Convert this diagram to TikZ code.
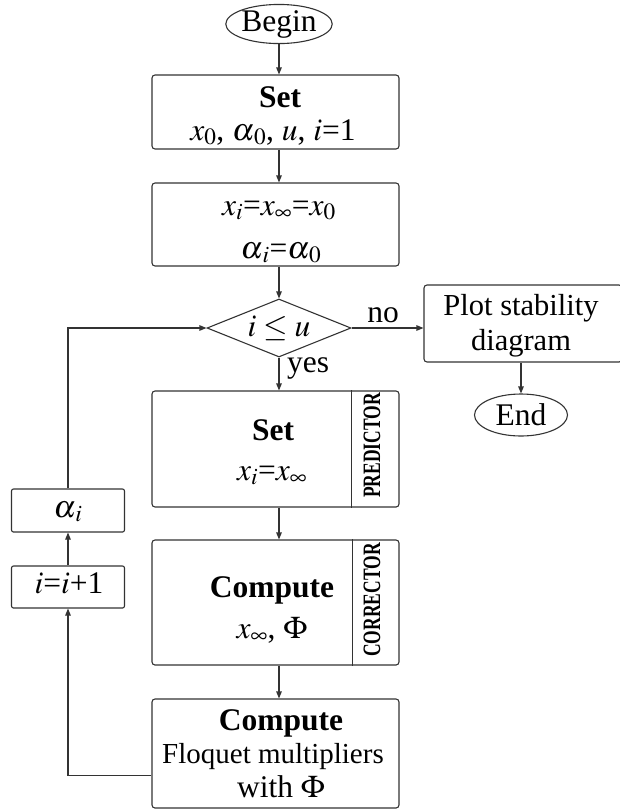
\documentclass[tikz,border=0pt]{standalone}
\usepackage{mathptmx}
\usepackage[no-math]{fontspec}
\setmainfont{Liberation Serif}
\usepackage{graphicx}
\usetikzlibrary{shapes.geometric,arrows.meta}

\tikzset{
  line/.style={draw=black!80, line width=1.1pt},
  arr/.style={line, -{Triangle[length=7pt,width=5.5pt]}},
  box/.style={line, rounded corners=3pt, minimum width=247pt, inner sep=0pt},
  smallbox/.style={line, rounded corners=2pt, minimum width=113pt, inner sep=0pt},
  term/.style={line, ellipse, inner sep=0pt},
  txt/.style={anchor=base, inner sep=0pt},
  side/.style={rotate=90, inner sep=0pt, font=\fontsize{25}{25}\selectfont\bfseries}
}
\newcommand{\alsub}[1]{\alpha_{\kern2pt #1}}

\begin{document}
\begin{tikzpicture}[x=1pt, y=-1pt, font=\fontsize{31.5}{34}\selectfont]
\useasboundingbox (0,0) rectangle (620,812);

% Start and initialisation
\node[term, minimum width=72pt, minimum height=36pt] (begin) at (279,24) {Begin};
\node[box, minimum height=74pt] (set) at (275.5,112) {};
\node[txt] (setA) at (280,107) {\textbf{Set}};
\node[txt] (setB) at (273,140) {$x_0$, $\alsub{0}$, $u$, $i$=1};
\node[box, minimum height=83pt] (init) at (275.5,224.5) {};
\node[txt] (initA) at (279,215) {$x_i$=$x_\infty$=$x_0$};
\node[txt] (initB) at (281,258) {$\alsub{i}$=$\alsub{0}$};

% Decision
\node[line, diamond, aspect=2.5, minimum width=144pt, minimum height=58pt, inner sep=0pt] (test) at (279,328) {$i\leq u$};
\node[txt, anchor=base west] (yes) at (287,372) {yes};
\node[txt] (no) at (383,322) {no};

% Exit branch
\begin{scope}
\clip (0,0) rectangle (620,812);
\node[box, minimum width=198pt, minimum height=77pt] (plot) at (523,323.5) {};
\end{scope}
\node[txt, font=\fontsize{30.5}{34}\selectfont] (plotA) at (521,315) {Plot stability};
\node[txt, font=\fontsize{30.5}{34}\selectfont] (plotB) at (521,350) {diagram};
\node[term, minimum width=93pt, minimum height=42pt] (stop) at (521,415) {End};

% Predictor
\node[box, minimum height=116pt] (pred) at (275.5,449) {};
\node[txt] (predA) at (273,440) {\textbf{Set}};
\node[txt] (predB) at (272,480) {$x_i$=$x_\infty$};
\draw[line] ([xshift=-48pt]pred.north east) -- ([xshift=-48pt]pred.south east);
\node[side] (predS) at (372,445.5) {\scalebox{0.7}[1]{PREDICTOR}};

% Corrector
\node[box, minimum height=125pt] (corr) at (275.5,602.5) {};
\node[txt] (corrA) at (272,597) {\textbf{Compute}};
\node[txt] (corrB) at (272,638) {$x_\infty$, $\Phi$};
\draw[line] ([xshift=-47pt]corr.north east) -- ([xshift=-47pt]corr.south east);
\node[side] (corrS) at (372,600) {\scalebox{0.7}[1]{CORRECTOR}};

% Floquet multipliers
\node[box, minimum height=109pt] (flq) at (275.5,753.5) {};
\node[txt] (flqA) at (281,730) {\textbf{Compute}};
\node[txt, font=\fontsize{29}{34}\selectfont] (flqB) at (273,763) {Floquet multipliers};
\node[txt] (flqC) at (281,797) {with $\Phi$};

% Loop back
\node[smallbox, minimum height=42pt] (inc) at (68,587) {};
\node[txt] (incT) at (69,593) {$i$=$i$+1};
\node[smallbox, minimum height=43pt] (alpha) at (68,510.5) {};
\node[txt] (alphaT) at (68,517) {$\alsub{i}$};

% Connectors
\draw[arr] (begin) -- (set.north -| begin);
\draw[arr] (set.south -| begin) -- (init.north -| begin);
\draw[arr] (init.south -| test) -- (test.north);
\draw[arr] (test.south) -- (pred.north -| test);
\draw[arr] (test.east) -- (test.east -| plot.west);
\draw[arr] (plot.south -| stop) -- (stop);
\draw[arr] (pred.south -| test) -- (corr.north -| test);
\draw[arr] (corr.south -| test) -- (flq.north -| test);
\draw[arr] ([yshift=-22pt]flq.west) -| (inc.south);
\draw[arr] (inc) -- (alpha);
\draw[arr] (alpha.north) |- (test.west);
\end{tikzpicture}
\end{document}
